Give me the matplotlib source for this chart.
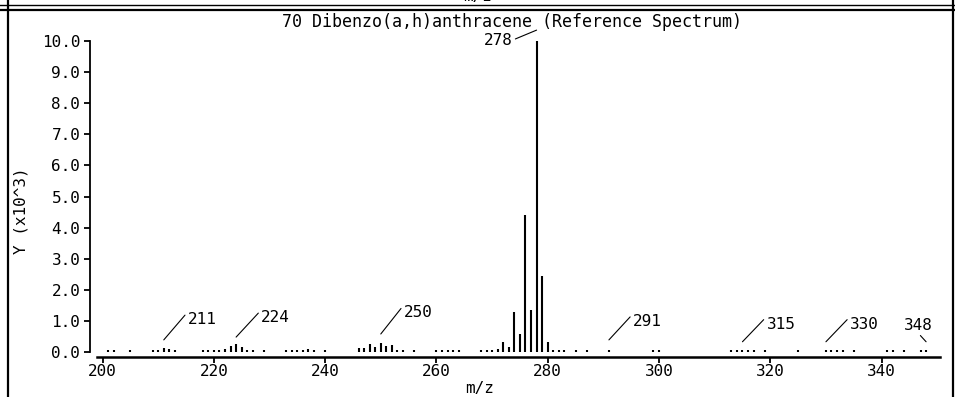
import numpy as np
import matplotlib.pyplot as plt
from matplotlib.lines import Line2D

# peak list (intensity in units of 10^3)
mz = [201, 202, 205,
      209, 210, 211, 212, 213,
      218, 219, 220, 221, 222, 223, 224, 225, 226, 227, 229,
      233, 234, 235, 236, 237, 238, 240,
      246, 247, 248, 249, 250, 251, 252, 253, 254, 256,
      260, 261, 262, 263, 264,
      268, 269, 270, 271, 272, 273, 274, 275, 276, 277, 278, 279, 280,
      281, 282, 283, 285, 287,
      291, 299, 300,
      313, 314, 315, 316, 317, 319, 325,
      330, 331, 332, 333, 335,
      341, 342, 344, 347, 348]
intensity = [0.05, 0.05, 0.05,
             0.05, 0.07, 0.12, 0.10, 0.05,
             0.05, 0.05, 0.05, 0.06, 0.10, 0.18, 0.25, 0.15, 0.07, 0.05, 0.05,
             0.05, 0.05, 0.08, 0.08, 0.10, 0.06, 0.05,
             0.12, 0.12, 0.25, 0.15, 0.30, 0.20, 0.24, 0.05, 0.05, 0.05,
             0.05, 0.06, 0.08, 0.06, 0.05,
             0.05, 0.05, 0.06, 0.10, 0.31, 0.17, 1.28, 0.57, 4.40, 1.35, 10.0, 2.45, 0.31,
             0.08, 0.06, 0.06, 0.05, 0.05,
             0.06, 0.05, 0.05,
             0.05, 0.05, 0.05, 0.05, 0.05, 0.05, 0.05,
             0.06, 0.05, 0.05, 0.05, 0.05,
             0.05, 0.05, 0.05, 0.05, 0.06]

# labelled peaks: m/z, leader start height, text offset (pixels)
label_mz = [211, 224, 250, 291, 315, 330, 348]
label_y = [0.39, 0.48, 0.58, 0.39, 0.33, 0.33, 0.33]
label_dx = [24, 25, 23, 24, 24, 24, -22]
label_dy = [28, 27, 29, 26, 25, 25, 24]

xticks = [200, 220, 240, 260, 280, 300, 320, 340]
yticks = np.arange(0, 11, 1.0)

title = "70 Dibenzo(a,h)anthracene (Reference Spectrum)"

W, H = 955, 397
plt.rcParams['font.family'] = ['DejaVu Sans Mono']
fs = 11.5

fig = plt.figure(figsize=(W / 100, H / 100), dpi=100)
ax = fig.add_axes([97 / W, (H - 357) / H, 843 / W, 316 / H])

ax.vlines(mz, 0, intensity, color='black', lw=1.5)

ax.set_xlim(199, 350.5)
ax.set_ylim(-0.16, 10.0)
ax.set_xticks(xticks)
ax.set_yticks(yticks)
ax.set_yticklabels(['%.1f' % v for v in yticks])
ax.tick_params(axis='both', direction='out', length=4, width=1.3,
               labelsize=fs, color='black')
ax.tick_params(axis='x', pad=1)
ax.tick_params(axis='y', pad=3)

for s in ['top', 'right']:
    ax.spines[s].set_visible(False)
ax.spines['left'].set_position(('outward', 5))
ax.spines['left'].set_bounds(0, 10)
ax.spines['left'].set_linewidth(1.3)
ax.spines['bottom'].set_linewidth(1.8)

for m, y0, dx, dy in zip(label_mz, label_y, label_dx, label_dy):
    ax.annotate(str(m), xy=(m, y0), xytext=(dx, dy), textcoords='offset pixels',
                ha='left', va='top', fontsize=fs,
                arrowprops=dict(arrowstyle='-', lw=0.8, color='black',
                                shrinkA=0, shrinkB=0, relpos=(0, 1)))

ax.annotate('278', xy=(278, 10.35), xytext=(-24, -10), textcoords='offset pixels',
            ha='right', va='center', fontsize=fs, annotation_clip=False,
            arrowprops=dict(arrowstyle='-', lw=0.8, color='black',
                            shrinkA=0, shrinkB=0, relpos=(1, 0.5)))

fig.text(512 / W, 1 - 22 / H, title, ha='center', va='center', fontsize=fs + 0.5)
fig.text(21 / W, 1 - 211 / H, 'Y (x10^3)', ha='center', va='center',
         rotation=90, fontsize=fs)
fig.text(480 / W, 1 / H, 'm/z', ha='center', va='bottom', fontsize=fs)
# bit of the previous panel's axis title peeking in at the top
fig.text(478 / W, 1 - 4 / H, 'm/z', ha='center', va='bottom', fontsize=fs)

# panel frame
def fline(x0, y0, x1, y1, lw):
    fig.add_artist(Line2D([x0 / W, x1 / W], [1 - y0 / H, 1 - y1 / H],
                          transform=fig.transFigure, color='black', lw=lw))

fline(0, 5, W, 5, 1.0)
fline(0, 9.5, W, 9.5, 1.6)
fline(8, 0, 8, H, 1.6)
fline(953, 0, 953, H, 1.6)

fig.savefig('out.png', dpi=100)
